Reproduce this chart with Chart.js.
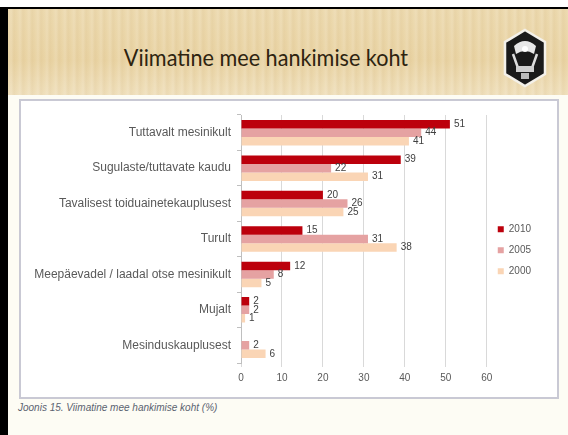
<!DOCTYPE html>
<html>
<head>
<meta charset="utf-8">
<script src="https://cdn.jsdelivr.net/npm/chart.js@4.4.1/dist/chart.umd.min.js"></script>
<style>
  html, body { margin: 0; padding: 0; }
  body { width: 568px; height: 435px; position: relative; overflow: hidden; background: #ffffff; font-family: "Liberation Sans", sans-serif; }
  #slide { position: absolute; left: 0; top: 7px; width: 568px; height: 428px; background: #fdfcf4; border-left: 8px solid #000; border-top: 2px solid #000; box-sizing: border-box; }
  #header { position: absolute; left: 8px; top: 9px; width: 560px; height: 86px;
    background: repeating-linear-gradient(90deg, rgba(255,255,255,0.0) 0px, rgba(255,255,255,0.12) 3px, rgba(160,120,60,0.05) 6px, rgba(255,255,255,0) 9px), linear-gradient(180deg, #ecd9ae 0%, #e9d3a3 60%, #efdfbb 100%); }
  #title { position: absolute; left: 0; top: 42px; width: 532px; text-align: center; font-family: Lato, sans-serif; font-size: 24px; color: #2e2410; transform: scaleX(0.9); transform-origin: 266px 0; white-space: nowrap; }
  #logo { position: absolute; left: 502px; top: 28px; width: 46px; height: 60px; }
  #box { position: absolute; left: 19px; top: 99px; width: 540px; height: 300px; background: #fff; border: 2px solid #c9c9d4; box-sizing: border-box; }
  #wrap { position: absolute; left: 21px; top: 101px; width: 536px; height: 296px; }
  #caption { position: absolute; left: 18px; top: 402px; font-family: "Liberation Sans", sans-serif; font-style: italic; font-size: 10px; color: #5a6270; white-space: nowrap; }
</style>
</head>
<body>
<div id="slide"></div>
<div id="header"></div>
<div id="title">Viimatine mee hankimise koht</div>
<svg id="logo" viewBox="0 0 46 60">
  <polygon points="23,2 43,14 43,46 23,58 3,46 3,14" fill="#1a1a1a" stroke="#f4f1ea" stroke-width="2.5"/>
  <path d="M12,18 Q23,8 34,18 L32,26 Q23,20 14,26 Z" fill="#e8e8e8"/>
  <circle cx="23" cy="21" r="3" fill="#fff"/>
  <path d="M11,26 L16,40 M35,26 L30,40" stroke="#ddd" stroke-width="2.5" fill="none"/>
  <rect x="14" y="38" width="18" height="6" fill="#cfcfcf"/>
  <rect x="19" y="45" width="8" height="6" fill="#bbb"/>
</svg>
<div id="box"></div>
<div id="wrap"><canvas id="c" width="536" height="296"></canvas></div>
<div id="caption">Joonis 15. Viimatine mee hankimise koht (%)</div>
<script>
const categories = [
  "Tuttavalt mesinikult",
  "Sugulaste/tuttavate kaudu",
  "Tavalisest toiduainetekauplusest",
  "Turult",
  "Meepäevadel / laadal otse mesinikult",
  "Mujalt",
  "Mesinduskauplusest"
];
const seriesNames = ["2010", "2005", "2000"];
const values2010 = [51, 39, 20, 15, 12, 2, null];
const values2005 = [44, 22, 26, 31, 8, 2, 2];
const values2000 = [41, 31, 25, 38, 5, 1, 6];
const xTicks = [0, 10, 20, 30, 40, 50, 60];

const colors = ["#bc000c", "#e5a2a2", "#fad5b5"];

const valueLabels = {
  id: "valueLabels",
  afterDatasetsDraw(chart) {
    const ctx = chart.ctx;
    ctx.save();
    ctx.font = "10px 'Liberation Sans', sans-serif";
    ctx.fillStyle = "#404040";
    ctx.textBaseline = "middle";
    ctx.textAlign = "left";
    chart.data.datasets.forEach((ds, di) => {
      const meta = chart.getDatasetMeta(di);
      meta.data.forEach((el, i) => {
        const v = ds.data[i];
        if (v === null || v === undefined) return;
        ctx.fillText(String(v), el.x + 4, el.y);
      });
    });
    ctx.restore();
  }
};

new Chart(document.getElementById("c"), {
  type: "bar",
  data: {
    labels: categories,
    datasets: [
      { label: seriesNames[0], data: values2010, backgroundColor: colors[0] },
      { label: seriesNames[1], data: values2005, backgroundColor: colors[1] },
      { label: seriesNames[2], data: values2000, backgroundColor: colors[2] }
    ]
  },
  options: {
    indexAxis: "y",
    responsive: false,
    animation: false,
    devicePixelRatio: 1,
    layout: { padding: { top: 14, right: 16, bottom: 0, left: 0 } },
    datasets: { bar: { categoryPercentage: 0.72, barPercentage: 1.0 } },
    scales: {
      x: {
        min: 0, max: 60,
        afterBuildTicks(s) { s.ticks = xTicks.map(v => ({ value: v })); },
        afterFit(s) { s.height = 34; },
        grid: { color: "#d9d9d9", tickLength: 4, drawTicks: true },
        border: { display: false },
        ticks: { color: "#595959", font: { family: "Liberation Sans", size: 10 }, padding: 5 }
      },
      y: {
        afterFit(s) { s.width = 220; },
        grid: { display: true, drawOnChartArea: false, offset: true, tickLength: 4, color: "#bfbfbf" },
        border: { display: true, color: "#bfbfbf" },
        ticks: { color: "#595959", font: { family: "Liberation Sans", size: 12 }, padding: 6 }
      }
    },
    plugins: {
      legend: {
        position: "right",
        align: "start",
        title: { display: true, text: "", padding: { top: 0, bottom: 97 }, font: { size: 1 } },
        labels: { boxWidth: 6, boxHeight: 6, padding: 11, color: "#595959", font: { family: "Liberation Sans", size: 10 } }
      },
      tooltip: { enabled: false }
    }
  },
  plugins: [valueLabels]
});
</script>
</body>
</html>
